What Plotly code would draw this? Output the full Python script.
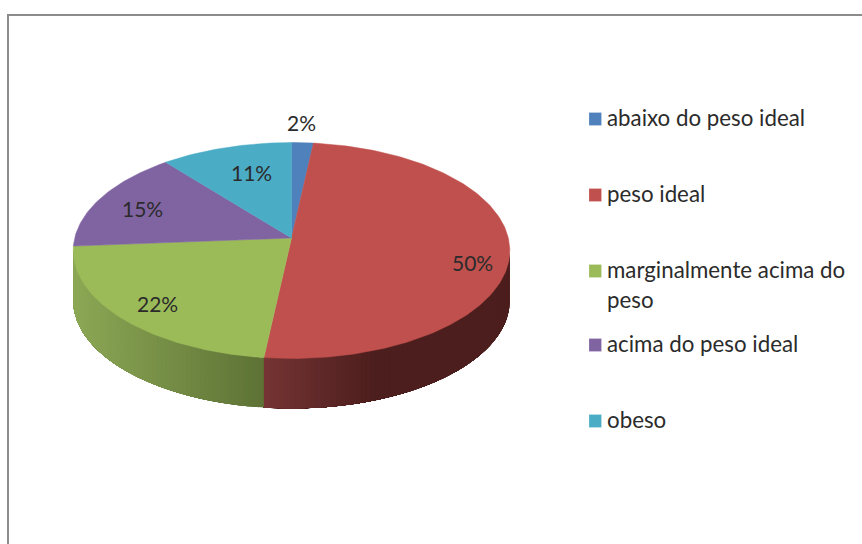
import math
import plotly.graph_objects as go

categories = ["abaixo do peso ideal", "peso ideal", "marginalmente acima do", "acima do peso ideal", "obeso"]
legend_second_line = ["", "", "peso", "", ""]
values = [1.8, 50.0, 22.0, 15.3, 10.9]
colors = ["#4F81BD", "#C0504D", "#9BBB59", "#8064A2", "#4BACC6"]
side_light = ["#3B608E", "#763434", "#8CA855", "#604B7A", "#38818F"]
side_dark = ["#2A4466", "#4C1E1D", "#5D7235", "#43345A", "#276070"]
label_pos = [(301, 122.5), (472, 262.5), (157, 303.5), (142, 208.5), (251, 172.5)]
legend_y = [119, 195, 271, 345, 421]

W, H = 862, 544
AX, AY = 291.5, 238.0   # apex of the pie on screen
RX, RY, K = 216.8, 106.5, 0.116
DEPTH = 50.0
FONT = "Lato, Carlito, sans-serif"
TEXT = "#2B2B2B"


def rim(deg):
    t = math.radians(deg)
    u, v = math.sin(t), math.cos(t)
    d = 1 + K * v
    return AX + RX * u / d, AY - RY * v / d


def mix(a, b, f):
    ca = [int(a[i:i + 2], 16) for i in (1, 3, 5)]
    cb = [int(b[i:i + 2], 16) for i in (1, 3, 5)]
    return "#%02x%02x%02x" % tuple(round(x + (y - x) * f) for x, y in zip(ca, cb))


total = sum(values)
edges = [0.0]
for val in values:
    edges.append(edges[-1] + 360.0 * val / total)

fig = go.Figure()
VIS0, VIS1 = 96.7, 263.3

# side wall, drawn as overlapping shaded strips (each reaches to the end of its slice,
# so later strips paint over earlier ones and no seams show)
for i in range(len(values)):
    a0, a1 = max(edges[i], VIS0), min(edges[i + 1], VIS1)
    if a1 <= a0:
        continue
    n = max(1, int((a1 - a0) / 1.2))
    for s in range(n):
        b0 = a0 + (a1 - a0) * s / n
        b1 = a0 + (a1 - a0) * (s + 1) / n
        p0, p1 = rim(b0), rim(b1)
        xm = (p0[0] + p1[0]) / 2
        if i == 1:
            f = min(1.0, max(0.0, (xm - 264) / 110))
            col = mix(side_light[i], side_dark[i], f)
        else:
            f = min(1.0, max(0.0, (264 - xm) / 190))
            col = mix(side_dark[i], side_light[i], f)
        arc = [rim(b0 + (a1 - b0) * q / 40) for q in range(41)]
        xs = [p[0] for p in arc] + [p[0] for p in reversed(arc)] + [arc[0][0]]
        ys = [p[1] for p in arc] + [p[1] + DEPTH for p in reversed(arc)] + [arc[0][1]]
        fig.add_trace(go.Scatter(
            x=xs, y=ys, mode="lines", fill="toself", fillcolor=col,
            line=dict(color=col, width=0), hoverinfo="skip", showlegend=False))

# top faces
for i in range(len(values)):
    n = max(4, int(edges[i + 1] - edges[i]))
    pts = [rim(edges[i] + (edges[i + 1] - edges[i]) * s / n) for s in range(n + 1)]
    fig.add_trace(go.Scatter(
        x=[AX] + [p[0] for p in pts] + [AX],
        y=[AY] + [p[1] for p in pts] + [AY],
        mode="lines", fill="toself", fillcolor=colors[i],
        line=dict(color=colors[i], width=0.5), name=categories[i],
        hoverinfo="name", showlegend=False))

annotations = []
for val, (x, y) in zip(values, label_pos):
    annotations.append(dict(x=x, y=y, xref="x", yref="y", text=f"{round(val)}%", showarrow=False,
                            font=dict(family=FONT, size=21, color=TEXT),
                            xanchor="center", yanchor="middle"))

shapes = [dict(type="rect", xref="x", yref="y", x0=8, y0=15, x1=W + 10, y1=H + 10,
               line=dict(color="#8C8C8C", width=2), fillcolor="rgba(0,0,0,0)", layer="below")]

for i, y in enumerate(legend_y):
    shapes.append(dict(type="rect", xref="x", yref="y", x0=589, x1=601.5, y0=y - 6.5, y1=y + 6.5,
                       line=dict(color="rgba(255,255,255,0.4)", width=0.5), fillcolor=colors[i]))
    annotations.append(dict(x=605, y=y - 2, xref="x", yref="y", text=categories[i], showarrow=False,
                            font=dict(family=FONT, size=22.3, color=TEXT),
                            xanchor="left", yanchor="middle"))
    if legend_second_line[i]:
        annotations.append(dict(x=605, y=y + 28, xref="x", yref="y", text=legend_second_line[i],
                                showarrow=False, font=dict(family=FONT, size=22.3, color=TEXT),
                                xanchor="left", yanchor="middle"))

fig.update_layout(
    width=W, height=H, margin=dict(l=0, r=0, t=0, b=0),
    paper_bgcolor="white", plot_bgcolor="white", showlegend=False,
    xaxis=dict(range=[0, W], visible=False, fixedrange=True),
    yaxis=dict(range=[H, 0], visible=False, fixedrange=True),
    shapes=shapes, annotations=annotations,
)
fig.write_html("out.html", config={"displayModeBar": False},
               post_script="document.body.style.margin='0';document.body.style.overflow='hidden';")
